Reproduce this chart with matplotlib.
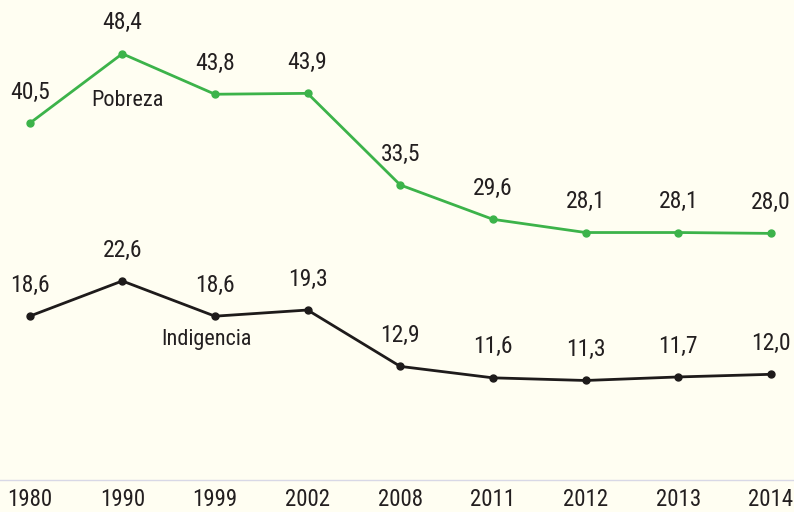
import matplotlib.pyplot as plt
from matplotlib import font_manager

years = ['1980', '1990', '1999', '2002', '2008', '2011', '2012', '2013', '2014']
pobreza = [40.5, 48.4, 43.8, 43.9, 33.5, 29.6, 28.1, 28.1, 28.0]
indigencia = [18.6, 22.6, 18.6, 19.3, 12.9, 11.6, 11.3, 11.7, 12.0]

names = {f.name for f in font_manager.fontManager.ttflist}
fam = [n for n in ['Roboto Condensed', 'Liberation Sans Narrow', 'DejaVu Sans Condensed'] if n in names]
plt.rcParams['font.family'] = fam + ['Roboto', 'DejaVu Sans']

bg = '#fffef2'
green = '#3cb34a'
black = '#1e1b1b'
txt = '#231f20'
fs = 17

fig = plt.figure(figsize=(7.94, 5.12), dpi=100, facecolor=bg)
ax = fig.add_axes([0, 0.0625, 1, 0.9375], facecolor=bg)

x = list(range(len(years)))
ax.plot(x, pobreza, color=green, lw=2, marker='o', ms=5)
ax.plot(x, indigencia, color=black, lw=2, marker='o', ms=5)

for series in (pobreza, indigencia):
    for xi, v in zip(x, series):
        ax.annotate(f'{v:.1f}'.replace('.', ','), (xi, v), xytext=(0, 14), textcoords='offset points',
                    ha='center', va='bottom', fontsize=fs, color=txt, fontstretch='condensed')

ax.text(1.06, 43.1, 'Pobreza', ha='center', va='center', fontsize=16, color=txt, fontstretch='condensed')
ax.text(1.91, 15.9, 'Indigencia', ha='center', va='center', fontsize=16, color=txt, fontstretch='condensed')

ax.set_xlim(-0.32, 8.25)
ax.set_ylim(0, 54.5)
ax.set_xticks(x)
ax.set_xticklabels(years, fontsize=16.5, color=txt, fontstretch='condensed')
ax.tick_params(axis='x', length=0, pad=6)
ax.set_yticks([])
for s in ['top', 'left', 'right']:
    ax.spines[s].set_visible(False)
ax.spines['bottom'].set_color('#d8d8e6')
ax.spines['bottom'].set_linewidth(1)

fig.savefig('out.png', dpi=100, facecolor=bg)
